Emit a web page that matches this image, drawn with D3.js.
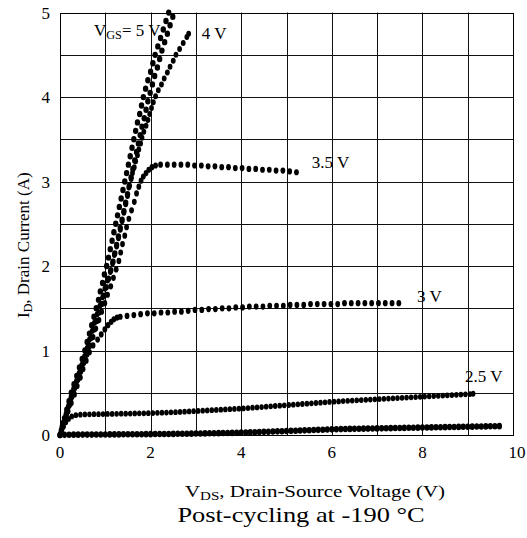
<!DOCTYPE html>
<html>
<head>
<meta charset="utf-8">
<script src="https://cdn.jsdelivr.net/npm/d3@7"></script>
<style>
  body { margin: 0; background: #fff; }
  text { font-family: "Liberation Serif", "Times New Roman", serif; fill: #000; }
</style>
</head>
<body>
<svg id="chart"></svg>
<script>
// Данные: [Vds (В), Id (А)]
const vgs2 = [[0.0,0.000],[0.1,0.002],[0.2,0.003],[0.3,0.004],[0.4,0.004],[0.5,0.005],[0.6,0.005],[0.7,0.005],[0.8,0.006],[0.9,0.006],
  [1.0,0.006],[1.1,0.007],[1.2,0.007],[1.3,0.007],[1.4,0.008],[1.5,0.008],[1.6,0.008],[1.7,0.009],[1.8,0.009],[1.9,0.010],
  [2.0,0.010],[2.1,0.011],[2.2,0.011],[2.3,0.012],[2.4,0.012],[2.5,0.013],[2.6,0.014],[2.7,0.014],[2.8,0.015],[2.9,0.016],
  [3.0,0.017],[3.1,0.018],[3.2,0.019],[3.3,0.020],[3.4,0.021],[3.5,0.022],[3.6,0.023],[3.7,0.024],[3.8,0.025],[3.9,0.026],
  [4.0,0.028],[4.1,0.029],[4.2,0.031],[4.3,0.033],[4.4,0.035],[4.5,0.037],[4.6,0.039],[4.7,0.041],[4.8,0.043],[4.9,0.045],
  [5.0,0.047],[5.1,0.049],[5.2,0.051],[5.3,0.053],[5.4,0.055],[5.5,0.057],[5.6,0.059],[5.7,0.061],[5.8,0.063],[5.9,0.065],
  [6.0,0.067],[6.1,0.068],[6.2,0.070],[6.3,0.071],[6.4,0.072],[6.5,0.073],[6.6,0.074],[6.7,0.075],[6.8,0.076],[6.9,0.077],
  [7.0,0.078],[7.1,0.079],[7.2,0.080],[7.3,0.081],[7.4,0.082],[7.5,0.083],[7.6,0.084],[7.7,0.085],[7.8,0.086],[7.9,0.087],
  [8.0,0.088],[8.1,0.089],[8.2,0.090],[8.3,0.091],[8.4,0.092],[8.5,0.093],[8.6,0.094],[8.7,0.095],[8.8,0.096],[8.9,0.097],
  [9.0,0.098],[9.1,0.099],[9.2,0.100],[9.3,0.101],[9.4,0.102],[9.5,0.103],[9.6,0.104],[9.7,0.105]];

const vgs25 = [[0.00,0.00],[0.04,0.05],[0.08,0.10],[0.13,0.15],[0.19,0.19],[0.26,0.22],[0.35,0.235],[0.45,0.240],[0.55,0.243],[0.65,0.245],
  [0.75,0.246],[0.85,0.247],[0.95,0.248],[1.05,0.249],[1.15,0.250],[1.25,0.251],[1.35,0.252],[1.45,0.253],[1.55,0.254],[1.65,0.255],
  [1.75,0.256],[1.85,0.257],[1.95,0.258],[2.05,0.260],[2.15,0.262],[2.25,0.264],[2.35,0.266],[2.45,0.268],[2.55,0.270],[2.65,0.273],
  [2.75,0.276],[2.85,0.279],[2.95,0.282],[3.05,0.285],[3.15,0.288],[3.25,0.291],[3.35,0.294],[3.45,0.297],[3.55,0.300],[3.65,0.303],
  [3.75,0.306],[3.85,0.309],[3.95,0.312],[4.05,0.315],[4.15,0.319],[4.25,0.323],[4.35,0.327],[4.45,0.331],[4.55,0.335],[4.65,0.339],
  [4.75,0.343],[4.85,0.347],[4.95,0.351],[5.05,0.355],[5.15,0.359],[5.25,0.363],[5.35,0.367],[5.45,0.371],[5.55,0.375],[5.65,0.379],
  [5.75,0.383],[5.85,0.387],[5.95,0.391],[6.05,0.395],[6.15,0.398],[6.25,0.401],[6.35,0.404],[6.45,0.407],[6.55,0.410],[6.65,0.413],
  [6.75,0.416],[6.85,0.419],[6.95,0.422],[7.05,0.425],[7.15,0.428],[7.25,0.431],[7.35,0.434],[7.45,0.437],[7.55,0.440],[7.65,0.443],
  [7.75,0.446],[7.85,0.449],[7.95,0.452],[8.05,0.455],[8.15,0.458],[8.25,0.461],[8.35,0.464],[8.45,0.467],[8.55,0.470],[8.65,0.473],
  [8.75,0.476],[8.85,0.479],[8.95,0.482],[9.05,0.485],[9.12,0.488]];

const vgs3 = [[0.05,0.08],[0.12,0.18],[0.18,0.28],[0.25,0.38],[0.32,0.48],[0.38,0.58],[0.45,0.68],[0.51,0.78],[0.58,0.88],[0.65,0.98],
  [0.73,1.06],[0.83,1.13],[0.91,1.19],[0.99,1.25],[1.06,1.30],[1.13,1.34],[1.19,1.37],[1.26,1.39],
  [1.33,1.40],[1.48,1.41],[1.63,1.42],[1.78,1.43],[1.93,1.44],[2.08,1.44],[2.23,1.45],[2.38,1.45],[2.53,1.46],[2.68,1.46],
  [2.83,1.47],[2.98,1.48],[3.13,1.48],[3.28,1.49],[3.43,1.49],[3.58,1.50],[3.73,1.50],[3.88,1.51],[4.03,1.51],[4.18,1.52],
  [4.33,1.52],[4.48,1.52],[4.63,1.53],[4.78,1.53],[4.93,1.53],[5.08,1.54],[5.23,1.54],[5.38,1.54],[5.53,1.55],[5.68,1.55],
  [5.83,1.55],[5.98,1.55],[6.13,1.55],[6.28,1.56],[6.43,1.56],[6.58,1.56],[6.73,1.56],[6.88,1.56],[7.03,1.56],[7.18,1.56],
  [7.33,1.56],[7.48,1.56]];

const vgs35 = [[0.03,0.06],[0.09,0.16],[0.15,0.26],[0.21,0.36],[0.27,0.46],[0.33,0.56],[0.40,0.66],[0.46,0.76],[0.53,0.86],[0.60,0.96],
  [0.66,1.06],[0.73,1.16],[0.79,1.26],[0.86,1.36],[0.92,1.46],[0.99,1.56],[1.05,1.66],[1.12,1.76],[1.18,1.86],[1.24,1.96],
  [1.30,2.06],[1.34,2.16],[1.38,2.26],[1.43,2.36],[1.47,2.46],[1.52,2.56],[1.58,2.66],[1.64,2.76],[1.69,2.86],[1.74,2.94],
  [1.79,3.01],[1.84,3.06],[1.90,3.10],[1.96,3.14],[2.03,3.17],[2.11,3.19],
  [2.22,3.20],[2.37,3.20],[2.52,3.20],[2.67,3.20],[2.82,3.20],[2.97,3.19],[3.12,3.19],[3.27,3.18],[3.42,3.18],[3.57,3.17],
  [3.72,3.17],[3.87,3.16],[4.02,3.16],[4.17,3.15],[4.32,3.15],[4.47,3.14],[4.62,3.14],[4.77,3.13],[4.92,3.13],[5.07,3.12],
  [5.22,3.11]];

const vgs4 = [[0.02,0.03],[0.07,0.13],[0.13,0.23],[0.18,0.33],[0.24,0.43],[0.30,0.53],[0.36,0.63],[0.42,0.73],[0.48,0.83],[0.54,0.93],
  [0.60,1.03],[0.65,1.13],[0.71,1.23],[0.76,1.33],[0.82,1.43],[0.88,1.53],[0.94,1.63],[0.99,1.73],[1.05,1.83],[1.11,1.93],
  [1.16,2.03],[1.20,2.13],[1.25,2.23],[1.29,2.33],[1.33,2.43],[1.37,2.53],[1.41,2.63],[1.45,2.73],[1.49,2.83],[1.52,2.93],
  [1.57,3.03],[1.60,3.10],[1.64,3.17],[1.67,3.24],[1.71,3.31],[1.74,3.38],[1.78,3.45],[1.81,3.52],[1.85,3.59],[1.90,3.66],
  [1.94,3.73],[1.98,3.80],[2.02,3.87],[2.06,3.94],[2.11,4.01],[2.17,4.08],[2.24,4.15],[2.30,4.22],[2.37,4.29],[2.43,4.36],
  [2.50,4.43],[2.56,4.50],[2.64,4.57],[2.72,4.64],[2.80,4.71],[2.84,4.75]];

const vgs5 = [[0.00,0.0],[0.05,0.1],[0.10,0.2],[0.15,0.3],[0.20,0.4],[0.25,0.5],[0.31,0.6],[0.37,0.7],[0.43,0.8],[0.49,0.9],
  [0.55,1.0],[0.60,1.1],[0.65,1.2],[0.70,1.3],[0.75,1.4],[0.80,1.5],[0.85,1.6],[0.89,1.7],[0.94,1.8],[0.98,1.9],
  [1.03,2.0],[1.07,2.1],[1.11,2.2],[1.15,2.3],[1.19,2.4],[1.23,2.5],[1.27,2.6],[1.31,2.7],[1.35,2.8],[1.39,2.9],
  [1.43,3.0],[1.47,3.1],[1.51,3.2],[1.55,3.3],[1.59,3.4],[1.63,3.5],[1.67,3.6],[1.71,3.7],[1.76,3.8],[1.80,3.9],
  [1.84,4.0],[1.89,4.1],[1.94,4.2],[2.00,4.3],[2.05,4.4],[2.10,4.5],[2.16,4.6],[2.22,4.7],[2.28,4.8],[2.34,4.9],
  [2.40,5.0]];

// второй проход при 5 В (правая нитка)
const vgs5b = [[0.03,0.05],[0.08,0.15],[0.14,0.25],[0.20,0.35],[0.25,0.45],[0.31,0.55],[0.38,0.65],[0.45,0.75],[0.51,0.85],[0.58,0.95],
  [0.64,1.05],[0.69,1.15],[0.75,1.25],[0.81,1.35],[0.86,1.45],[0.92,1.55],[0.97,1.65],[1.02,1.75],[1.07,1.85],[1.12,1.95],
  [1.17,2.05],[1.21,2.15],[1.25,2.25],[1.29,2.35],[1.33,2.45],[1.37,2.55],[1.41,2.65],[1.45,2.75],[1.49,2.85],[1.53,2.95],
  [1.57,3.05],[1.61,3.15],[1.65,3.25],[1.69,3.35],[1.73,3.45],[1.77,3.55],[1.81,3.65],[1.86,3.75],[1.90,3.85],[1.94,3.95],
  [1.99,4.05],[2.04,4.15],[2.09,4.25],[2.15,4.35],[2.20,4.45],[2.25,4.55],[2.31,4.65],[2.37,4.75],[2.43,4.85],[2.49,4.95]];

const xTicks = [0, 2, 4, 6, 8, 10];
const yTicks = [0, 1, 2, 3, 4, 5];
const xGrid = [1, 2, 3, 4, 5, 6, 7, 8, 9];
const yGrid = [0.5, 1, 1.5, 2, 2.5, 3, 3.5, 4, 4.5];

// Размер точек для каждой кривой
const series = [
    {pts: vgs2,  rx: 2.6, ry: 3.3},
    {pts: vgs25, rx: 2.3, ry: 2.9},
    {pts: vgs3,  rx: 2.4, ry: 3.1},
    {pts: vgs35, rx: 2.4, ry: 3.1},
    {pts: vgs4,  rx: 2.4, ry: 3.0},
    {pts: vgs5,  rx: 2.7, ry: 3.2},
    {pts: vgs5b, rx: 2.7, ry: 3.2}
];

const width = 527, height = 538;
const svg = d3.select("#chart").attr("width", width).attr("height", height);

const x = d3.scaleLinear().domain([0, 10]).range([60, 513]);
const y = d3.scaleLinear().domain([0, 5]).range([435, 12.6]);

// Сетка
svg.append("g").selectAll("line").data(xGrid).join("line")
    .attr("x1", d => Math.round(x(d)) + 0.5).attr("x2", d => Math.round(x(d)) + 0.5)
    .attr("y1", y(5)).attr("y2", y(0))
    .attr("stroke", "#111").attr("stroke-width", 1);
svg.append("g").selectAll("line").data(yGrid).join("line")
    .attr("y1", d => Math.round(y(d)) + 0.5).attr("y2", d => Math.round(y(d)) + 0.5)
    .attr("x1", x(0)).attr("x2", x(10))
    .attr("stroke", "#111").attr("stroke-width", 1);

// Рамка
svg.append("rect")
    .attr("x", Math.round(x(0)) + 0.5).attr("y", Math.round(y(5)) + 0.5)
    .attr("width", Math.round(x(10)) - Math.round(x(0)))
    .attr("height", Math.round(y(0)) - Math.round(y(5)))
    .attr("fill", "none").attr("stroke", "#000").attr("stroke-width", 1);

// Подписи делений
svg.append("g").selectAll("text").data(xTicks).join("text")
    .attr("x", d => d === 10 ? x(d) + 4 : x(d))
    .attr("y", 458)
    .attr("text-anchor", "middle")
    .attr("font-size", 17)
    .text(d => d);
svg.append("g").selectAll("text").data(yTicks).join("text")
    .attr("x", 50)
    .attr("y", d => y(d) + 6)
    .attr("text-anchor", "end")
    .attr("font-size", 17)
    .text(d => d);

// Точки
series.forEach(s => {
    svg.append("g").selectAll("ellipse").data(s.pts).join("ellipse")
        .attr("cx", d => x(d[0]))
        .attr("cy", d => y(d[1]))
        .attr("rx", s.rx).attr("ry", s.ry)
        .attr("fill", "#000");
});

// Текст с нижним индексом
function subText(px, py, parts, size, sx) {
    const t = svg.append("text")
        .attr("transform", `translate(${px}, ${py}) scale(${sx || 1}, 1)`)
        .attr("font-size", size);
    parts.forEach(p => {
        t.append("tspan")
            .attr("font-size", p.sub ? size * 0.72 : size)
            .attr("dy", p.dy || 0)
            .text(p.t);
    });
    return t;
}

// Подписи кривых (в координатах данных)
subText(x(0.75), y(4.72), [{t: "V"}, {t: "GS", sub: true, dy: 3}, {t: "= 5 V", dy: -3}], 17);
subText(x(3.13), y(4.69), [{t: "4 V"}], 17);
subText(x(5.56), y(3.16), [{t: "3.5 V"}], 17);
subText(x(7.88), y(1.57), [{t: "3 V"}], 17);
subText(x(8.94), y(0.63), [{t: "2.5 V"}], 17);

// Подписи осей
subText(185, 497, [{t: "V"}, {t: "DS", sub: true, dy: 3}, {t: ", Drain-Source Voltage (V)", dy: -3}], 17, 1.23);

const yTitle = svg.append("text")
    .attr("transform", "translate(29, 318) rotate(-90)")
    .attr("font-size", 17);
yTitle.append("tspan").text("I");
yTitle.append("tspan").attr("font-size", 12).attr("dy", 3).text("D");
yTitle.append("tspan").attr("dy", -3).text(", Drain Current (A)");

svg.append("text")
    .attr("transform", "translate(301, 522) scale(1.2, 1)")
    .attr("text-anchor", "middle")
    .attr("font-size", 22)
    .text("Post-cycling at -190 °C");
</script>
</body>
</html>
